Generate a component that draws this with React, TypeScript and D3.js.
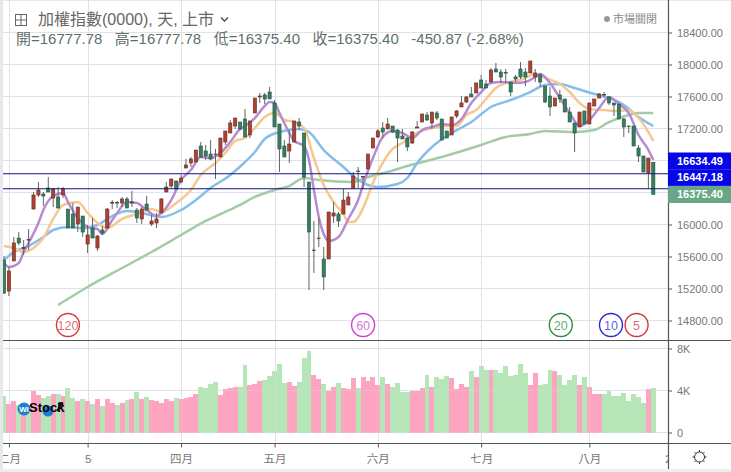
import React, { useRef, useEffect } from 'react'
import * as d3 from 'd3'

const opens = [
  15556, 15168, 15544, 15831, 15700, 15812, 16193, 16369, 16381, 16456,
  16331, 16344, 16369, 16193, 16131, 16006, 16106, 15756, 15956, 15706,
  15931, 15956, 16269, 16275, 16269, 16319, 16269, 16181, 16069, 16256,
  16006, 16019, 16144, 16406, 16481, 16544, 16531, 16706, 16769, 16781,
  16981, 16919, 16881, 16881, 16844, 17031, 17144, 17231, 17281, 17319,
  17119, 17394, 17594, 17619, 17656, 17519, 17256, 16981, 16919, 17031,
  17281, 17144, 16531, 15675, 15825, 15569, 15569, 16106, 16131, 16131,
  16244, 16456, 16669, 16594, 16694, 16956, 17094, 17206, 17194, 17231,
  17181, 17106, 17081, 17019, 17206, 17281, 17369, 17269, 17394, 17319,
  17169, 17119, 17356, 17469, 17531, 17631, 17644, 17806, 17756, 17781,
  17944, 17906, 17900, 17781, 17844, 17944, 17906, 17894, 17844, 17869,
  17731, 17606, 17481, 17619, 17569, 17406, 17269, 17219, 17419, 17256,
  17481, 17581, 17625, 17594, 17519, 17506, 17319, 17231, 17231, 16956,
  16856, 16644, 16777.78,
]
const highs = [
  15606, 15468, 15844, 15906, 15806, 15944, 16406, 16531, 16406, 16594,
  16456, 16469, 16469, 16193, 16269, 16218, 16106, 15994, 16081, 15869,
  15981, 16206, 16306, 16294, 16344, 16344, 16419, 16206, 16218, 16356,
  16119, 16144, 16331, 16531, 16569, 16544, 16619, 16819, 16844, 16931,
  17031, 16994, 17056, 16944, 17081, 17169, 17306, 17331, 17281, 17444,
  17294, 17581, 17644, 17644, 17719, 17556, 17256, 17056, 17181, 17294,
  17331, 17144, 16531, 16044, 16081, 15719, 16156, 16281, 16156, 16444,
  16406, 16656, 16719, 16606, 16881, 17081, 17194, 17281, 17331, 17231,
  17194, 17194, 17094, 17169, 17294, 17381, 17406, 17406, 17419, 17319,
  17169, 17344, 17431, 17606, 17606, 17719, 17769, 17869, 17806, 17956,
  18019, 17944, 17944, 17781, 17869, 18031, 17956, 18044, 17944, 17894,
  17731, 17719, 17581, 17681, 17569, 17469, 17269, 17406, 17419, 17519,
  17569, 17644, 17656, 17606, 17519, 17506, 17331, 17235, 17231, 16994,
  16856, 16831, 16777.78,
]
const lows = [
  15131, 15106, 15544, 15744, 15619, 15681, 16193, 16344, 16231, 16406,
  16218, 16206, 16331, 15956, 15956, 15906, 15844, 15644, 15831, 15669,
  15869, 15956, 16193, 16206, 16218, 16206, 16218, 16019, 16006, 16181,
  15981, 15956, 16144, 16406, 16456, 16444, 16519, 16706, 16719, 16781,
  16831, 16806, 16806, 16569, 16844, 16994, 17144, 17194, 17181, 17094,
  17081, 17394, 17519, 17506, 17569, 17219, 16656, 16844, 16769, 17031,
  17181, 16469, 15181, 15394, 15719, 15181, 15569, 16019, 15969, 16131,
  16244, 16456, 16456, 16444, 16694, 16956, 17081, 17081, 17194, 17144,
  16781, 17069, 16919, 17006, 17206, 17281, 17294, 17194, 17306, 17056,
  17081, 17119, 17331, 17469, 17519, 17594, 17644, 17706, 17706, 17781,
  17906, 17769, 17769, 17606, 17781, 17819, 17731, 17894, 17781, 17719,
  17519, 17356, 17481, 17519, 17406, 17281, 16906, 17219, 17256, 17256,
  17481, 17581, 17594, 17494, 17356, 17319, 17094, 17144, 16981, 16781,
  16656, 16444, 16375.4,
]
const closes = [
  15143, 15418, 15769, 15769, 15712, 15806, 16369, 16431, 16356, 16406,
  16444, 16206, 16444, 15956, 15956, 16218, 15906, 15869, 15831, 15856,
  15894, 16193, 16275, 16269, 16319, 16206, 16281, 16081, 16193, 16181,
  16044, 16069, 16319, 16469, 16569, 16444, 16581, 16744, 16819, 16931,
  16844, 16856, 16819, 16875, 17081, 17169, 17269, 17331, 17194, 17094,
  17294, 17581, 17606, 17569, 17569, 17219, 16944, 16844, 17006, 17294,
  17231, 16594, 15906, 15681, 15831, 15344, 16156, 16144, 16044, 16306,
  16344, 16606, 16662, 16600, 16881, 17081, 17169, 17156, 17256, 17156,
  17081, 17069, 16969, 17156, 17219, 17381, 17306, 17406, 17331, 17056,
  17081, 17344, 17419, 17519, 17594, 17594, 17769, 17706, 17706, 17931,
  17906, 17844, 17894, 17656, 17819, 17844, 17844, 18044, 17894, 17781,
  17531, 17469, 17581, 17569, 17406, 17281, 17144, 17406, 17256, 17519,
  17569, 17631, 17619, 17519, 17494, 17319, 17219, 17225, 16981, 16856,
  16656, 16831, 16375.4,
]
const volumes = [
  3460, 2700, 3000, 2600, 2100, 2300, 4000, 3550, 3300, 3450,
  3650, 3700, 3450, 4250, 3300, 3000, 3150, 3000, 2750, 3150,
  2500, 3150, 2850, 2600, 2850, 3050, 3150, 3850, 3200, 3350,
  3100, 3000, 2850, 3150, 3000, 3250, 3150, 3250, 3350, 3700,
  4350, 4200, 4600, 4800, 3550, 4150, 4250, 4300, 4300, 6400,
  4500, 4600, 4900, 5000, 5400, 5850, 6500, 4700, 4800, 4400,
  4800, 7100, 7750, 5500, 5100, 4650, 4000, 4300, 4750, 4250,
  4100, 5150, 4200, 5250, 4900, 5250, 4500, 5250, 4650, 4300,
  4750, 3850, 3900, 4000, 4000, 4200, 5500, 4300, 5250, 5100,
  5350, 5150, 4100, 4650, 4350, 5850, 5250, 6300, 6000, 5950,
  5950, 5700, 6300, 5400, 5450, 6500, 5700, 4500, 5700, 4550,
  4650, 6000, 5850, 5500, 4500, 5000, 5450, 4500, 5300, 4300,
  3700, 3650, 3700, 3950, 3500, 3450, 3800, 3000, 3700, 3400,
  2850, 4100, 4250,
]

const ma5Index = [0, 1, 3, 4, 5, 7, 8, 10, 12, 13, 15, 17, 19, 20, 22, 23, 25, 27, 29, 31, 32, 34, 36, 38, 40, 42, 44, 46, 48, 49, 51, 53, 54, 55, 56, 58, 59, 61, 62, 63, 64, 65, 66, 68, 70, 72, 73, 75, 77, 79, 81, 83, 85, 87, 89, 91, 93, 95, 97, 99, 101, 104, 106, 108, 109, 111, 113, 115, 117, 119, 121, 123, 125, 127, 129, 131, 132]
const ma5 = [15519, 15469, 15519, 15656, 15769, 16019, 16181, 16356, 16394, 16281, 16081, 15969, 15944, 15881, 16056, 16144, 16281, 16269, 16181, 16106, 16144, 16306, 16556, 16681, 16844, 16831, 16894, 17031, 17194, 17231, 17331, 17481, 17531, 17519, 17394, 17144, 17044, 16981, 16806, 16431, 16094, 15881, 15794, 15844, 16069, 16306, 16494, 16831, 17094, 17169, 17144, 17081, 17181, 17219, 17256, 17244, 17319, 17519, 17656, 17769, 17781, 17769, 17781, 17844, 17881, 17769, 17581, 17394, 17231, 17306, 17456, 17594, 17506, 17394, 17119, 16931, 16806]

const ma10Index = [0, 2, 4, 6, 8, 10, 12, 15, 17, 19, 21, 24, 27, 30, 32, 35, 38, 40, 43, 45, 47, 49, 51, 53, 55, 57, 59, 61, 63, 65, 67, 69, 70, 71, 73, 75, 77, 79, 81, 84, 87, 90, 92, 94, 96, 98, 100, 102, 105, 108, 110, 113, 115, 117, 119, 122, 125, 127, 129, 131, 132]
const ma10 = [15731, 15706, 15656, 15706, 15831, 16069, 16244, 16281, 16144, 16019, 15956, 16069, 16131, 16194, 16156, 16269, 16431, 16619, 16769, 16894, 17044, 17081, 17206, 17344, 17394, 17306, 17281, 17206, 16831, 16494, 16281, 16131, 16031, 16031, 16206, 16519, 16769, 16944, 17019, 17144, 17206, 17231, 17231, 17369, 17431, 17569, 17706, 17769, 17806, 17881, 17831, 17756, 17656, 17519, 17444, 17431, 17419, 17431, 17331, 17156, 17044]

const ma20Index = [0, 2, 5, 8, 10, 13, 16, 19, 22, 25, 28, 32, 36, 39, 42, 46, 49, 51, 53, 56, 60, 62, 65, 69, 72, 74, 76, 80, 82, 84, 87, 91, 95, 99, 103, 107, 110, 113, 116, 120, 123, 126, 129, 132]
const ma20 = [15556, 15656, 15731, 15844, 15931, 15969, 15956, 15994, 16106, 16169, 16144, 16094, 16181, 16306, 16456, 16619, 16781, 16906, 17069, 17156, 17194, 17156, 16931, 16719, 16556, 16494, 16469, 16506, 16581, 16769, 16969, 17144, 17281, 17469, 17556, 17656, 17744, 17756, 17706, 17631, 17581, 17494, 17344, 17231]

const ma60Index = [11, 17, 24, 30, 36, 41, 48, 51, 55, 58, 61, 64, 71, 74, 78, 82, 89, 97, 102, 107, 110, 116, 120, 123, 127, 129, 132]
const ma60 = [14994, 15219, 15456, 15656, 15869, 16044, 16244, 16344, 16431, 16481, 16581, 16556, 16531, 16594, 16656, 16731, 16844, 16994, 17094, 17131, 17169, 17156, 17181, 17281, 17369, 17394, 17394]

const priceTicks = [18400, 18000, 17600, 17200, 16800, 16400, 16000, 15600, 15200, 14800]
const volumeTicks = [0, 4000, 8000]
const timeTickIndex = [1, 17, 36, 55, 76, 97, 119, 135]
const timeTickLabels = ['二月', '5', '四月', '五月', '六月', '七月', '八月', '2']
const levels = [16634.49, 16447.18]
const levelLabels = ['16634.49', '16447.18']
const lastLabel = '16375.40'
const badges = ['120', '60', '20', '10', '5']
const badgeIndex = [13, 73, 113.2, 123.4, 128.6]
const badgeColors = ['#d03a3a', '#d43bd4', '#2b8a3e', '#2a2ad0', '#d03a3a']

const WIDTH = 731
const HEIGHT = 472
const AXIS_X = 668
const FONT = '"Liberation Sans","Noto Sans CJK TC",sans-serif'

const App: React.FC = () => {
  const svgRef = useRef<SVGSVGElement | null>(null)

  useEffect(() => {
    if (!svgRef.current) return
    const svg = d3.select(svgRef.current)
    svg.selectAll('*').remove()
    svg.style('font-family', FONT)

    const x = d3.scaleLinear().domain([0, 132]).range([4, 653.3])
    const y = d3.scaleLinear().domain([18000, 14800]).range([64.5, 320.5])
    const yVol = d3.scaleLinear().domain([0, 8000]).range([432.5, 348.5])

    const defs = svg.append('defs')
    defs.append('clipPath').attr('id', 'plot').append('rect')
      .attr('x', 3).attr('y', 0).attr('width', AXIS_X - 3).attr('height', 340)
    defs.append('clipPath').attr('id', 'volPlot').append('rect')
      .attr('x', 3).attr('y', 341).attr('width', AXIS_X - 3).attr('height', 102)
    defs.append('clipPath').attr('id', 'timeClip').append('rect')
      .attr('x', 3).attr('y', -1).attr('width', AXIS_X - 3).attr('height', 26)

    // page frame
    svg.append('rect').attr('width', WIDTH).attr('height', HEIGHT).attr('fill', '#fff')
    svg.append('rect').attr('width', 3).attr('height', HEIGHT).attr('fill', '#e6e8ee')
    svg.append('rect').attr('width', WIDTH).attr('height', 1).attr('fill', '#e6e8ee')
    svg.append('rect').attr('y', 469).attr('width', WIDTH).attr('height', 3).attr('fill', '#eceef2')

    const drawGrid = (opacity: number) => {
      const grid = svg.append('g').attr('stroke', '#dfe3e8').attr('stroke-width', 1).attr('stroke-opacity', opacity)
      priceTicks.forEach(t => {
        grid.append('line').attr('x1', 3).attr('x2', AXIS_X).attr('y1', y(t)).attr('y2', y(t))
      })
      volumeTicks.forEach(t => {
        grid.append('line').attr('x1', 3).attr('x2', AXIS_X).attr('y1', yVol(t)).attr('y2', yVol(t))
      })
      timeTickIndex.slice(0, -1).forEach(i => {
        const gx = Math.round(x(i)) + 0.5
        grid.append('line').attr('x1', gx).attr('x2', gx).attr('y1', 0).attr('y2', 443)
      })
    }
    drawGrid(1)

    // volume pane
    const isUp = (i: number) => closes[i] >= opens[i]
    svg.append('g').attr('clip-path', 'url(#volPlot)')
      .selectAll('rect')
      .data(volumes)
      .join('rect')
      .attr('x', (_, i) => x(i) - 2.46)
      .attr('width', 4.92)
      .attr('y', d => yVol(d))
      .attr('height', d => yVol(0) - yVol(d))
      .attr('fill', (_, i) => (isUp(i) ? '#fda4c0' : '#b6e6b8'))
      .attr('shape-rendering', 'crispEdges')
    drawGrid(0.25)

    // watermark
    const mark = svg.append('g')
    mark.append('circle').attr('cx', 24).attr('cy', 409).attr('r', 6.5).attr('fill', '#1f7fd0')
    mark.append('text').attr('x', 24).attr('y', 412).attr('text-anchor', 'middle')
      .attr('font-size', 8).attr('font-weight', 'bold').attr('fill', '#fff').text('Wi')
    mark.append('circle').attr('cx', 48).attr('cy', 411).attr('r', 5.5).attr('fill', '#1f7fd0')
    mark.append('text').attr('x', 29).attr('y', 412).attr('font-size', 13).attr('font-weight', 'bold')
      .attr('fill', '#000').text('Stock')
    mark.append('path').attr('d', 'M57 411L62 403M58.5 403H62.5V407').attr('fill', 'none')
      .attr('stroke', '#000').attr('stroke-width', 1.5)

    // moving averages
    const plot = svg.append('g').attr('clip-path', 'url(#plot)')
    const lineFor = d3.line<[number, number]>()
      .x(d => x(d[0]))
      .y(d => y(d[1]))
      .curve(d3.curveMonotoneX)
    const maSeries: [number[], number[], string][] = [
      [ma60Index, ma60, '#a3cca6'],
      [ma20Index, ma20, '#85bfe9'],
      [ma10Index, ma10, '#f6c78f'],
      [ma5Index, ma5, '#b78bd2'],
    ]
    maSeries.forEach(([idx, vals, color]) => {
      plot.append('path')
        .datum(idx.map((k, n) => [k, vals[n]] as [number, number]))
        .attr('fill', 'none')
        .attr('stroke', color)
        .attr('stroke-width', 2.5)
        .attr('d', lineFor)
    })

    // candles
    const candle = plot.selectAll('g.candle')
      .data(d3.range(opens.length))
      .join('g')
      .attr('class', 'candle')
    candle.append('line')
      .attr('x1', i => x(i)).attr('x2', i => x(i))
      .attr('y1', i => y(highs[i])).attr('y2', i => y(lows[i]))
      .attr('stroke', '#5f6663').attr('stroke-width', 1)
    candle.append('rect')
      .attr('x', i => x(i) - 1.6)
      .attr('width', 3.2)
      .attr('y', i => y(Math.max(opens[i], closes[i])))
      .attr('height', i => Math.max(0.6, Math.abs(y(opens[i]) - y(closes[i]))))
      .attr('fill', i => (isUp(i) ? '#b3402f' : '#34805f'))
      .attr('stroke', i => (isUp(i) ? '#5c2c28' : '#2c4f42'))
      .attr('stroke-width', 0.6)

    // price level lines
    levels.forEach(v => {
      svg.append('line').attr('x1', 3).attr('x2', AXIS_X)
        .attr('y1', y(v)).attr('y2', y(v))
        .attr('stroke', '#11117f').attr('stroke-width', 1.2)
    })

    // order badges
    badges.forEach((b, n) => {
      const cx = x(badgeIndex[n])
      svg.append('circle').attr('cx', cx).attr('cy', 325).attr('r', 11.5)
        .attr('fill', '#fff').attr('stroke', badgeColors[n]).attr('stroke-width', 1.4)
      svg.append('text').attr('x', cx).attr('y', 329.5).attr('text-anchor', 'middle')
        .attr('font-size', 12.5).attr('fill', badgeColors[n]).attr('fill-opacity', 0.75).text(b)
    })

    // axes
    const priceAxis = svg.append('g').attr('transform', `translate(${AXIS_X},0)`)
      .call(d3.axisRight(y).tickValues(priceTicks).tickSize(4).tickPadding(5)
        .tickFormat(d => (d as number).toFixed(2)))
    const volAxis = svg.append('g').attr('transform', `translate(${AXIS_X},0)`)
      .call(d3.axisRight(yVol).tickValues(volumeTicks).tickSize(4).tickPadding(5)
        .tickFormat(d => ((d as number) === 0 ? '0' : `${(d as number) / 1000}K`)))
    const timeAxis = svg.append('g').attr('transform', 'translate(0,443.5)')
      .attr('clip-path', 'url(#timeClip)')
      .call(d3.axisBottom(x).tickValues(timeTickIndex).tickSize(4).tickPadding(7)
        .tickFormat((_, n) => timeTickLabels[n]))
    ;[priceAxis, volAxis, timeAxis].forEach(a => {
      a.select('.domain').remove()
      a.selectAll('line').attr('stroke', '#555')
      a.selectAll('text').attr('fill', '#777').attr('font-size', 11).style('font-family', FONT)
    })
    timeAxis.selectAll('text').attr('font-size', 11.5)

    // pane borders
    svg.append('line').attr('x1', AXIS_X + 0.5).attr('x2', AXIS_X + 0.5).attr('y1', 0).attr('y2', 469)
      .attr('stroke', '#555').attr('stroke-width', 1.2)
    svg.append('line').attr('x1', 3).attr('x2', WIDTH).attr('y1', 340.5).attr('y2', 340.5)
      .attr('stroke', '#555').attr('stroke-width', 1.2)
    svg.append('line').attr('x1', 3).attr('x2', WIDTH).attr('y1', 443.5).attr('y2', 443.5)
      .attr('stroke', '#555').attr('stroke-width', 1.2)

    // last-value labels
    const labelFill = '#0505e8'
    levelLabels.forEach((t, n) => {
      svg.append('rect').attr('x', AXIS_X).attr('y', 152.5 + n * 16.7).attr('width', WIDTH - AXIS_X).attr('height', 16.7)
        .attr('fill', labelFill)
      svg.append('text').attr('x', 677).attr('y', 164.5 + n * 16.7).attr('font-size', 11)
        .attr('font-weight', 'bold').attr('fill', '#fff').text(t)
    })
    svg.append('rect').attr('x', AXIS_X).attr('y', 186).attr('width', WIDTH - AXIS_X).attr('height', 17)
      .attr('fill', '#69a686')
    svg.append('text').attr('x', 677).attr('y', 198).attr('font-size', 11)
      .attr('font-weight', 'bold').attr('fill', '#fff').text(lastLabel)

    // header
    const icon = svg.append('g').attr('fill', 'none').attr('stroke', '#666')
    icon.append('rect').attr('x', 15.5).attr('y', 14.5).attr('width', 11).attr('height', 11)
    icon.append('path').attr('d', 'M21 15V25M16 20H26')
    svg.append('text').attr('x', 38).attr('y', 25).attr('font-size', 16).attr('fill', '#666')
      .text('加權指數(0000), 天, 上市')
    svg.append('path').attr('d', 'M221 17.5L224.5 21L228 17.5').attr('fill', 'none')
      .attr('stroke', '#444').attr('stroke-width', 1.3)
    svg.append('text').attr('x', 16).attr('y', 44).attr('font-size', 15).attr('fill', '#5f6f6a')
      .attr('xml:space', 'preserve').style('white-space', 'pre')
      .text('開=16777.78   高=16777.78   低=16375.40   收=16375.40   -450.87 (-2.68%)')
    svg.append('circle').attr('cx', 607).attr('cy', 19).attr('r', 3).attr('fill', '#999')
    svg.append('text').attr('x', 613).attr('y', 23).attr('font-size', 11).attr('fill', '#888').text('市場關閉')

    // settings gear
    const gear = svg.append('g').attr('transform', 'translate(699.5,457)').attr('stroke', '#333').attr('fill', 'none')
    gear.append('circle').attr('r', 5)
    d3.range(8).forEach(k => {
      const a = (k * Math.PI) / 4
      gear.append('line').attr('x1', 5 * Math.cos(a)).attr('y1', 5 * Math.sin(a))
        .attr('x2', 7 * Math.cos(a)).attr('y2', 7 * Math.sin(a))
    })
  }, [])

  return (
    <svg
      ref={svgRef}
      width={WIDTH}
      height={HEIGHT}
      style={{ position: 'absolute', left: 0, top: 0, display: 'block' }}
    />
  )
}

export default App
